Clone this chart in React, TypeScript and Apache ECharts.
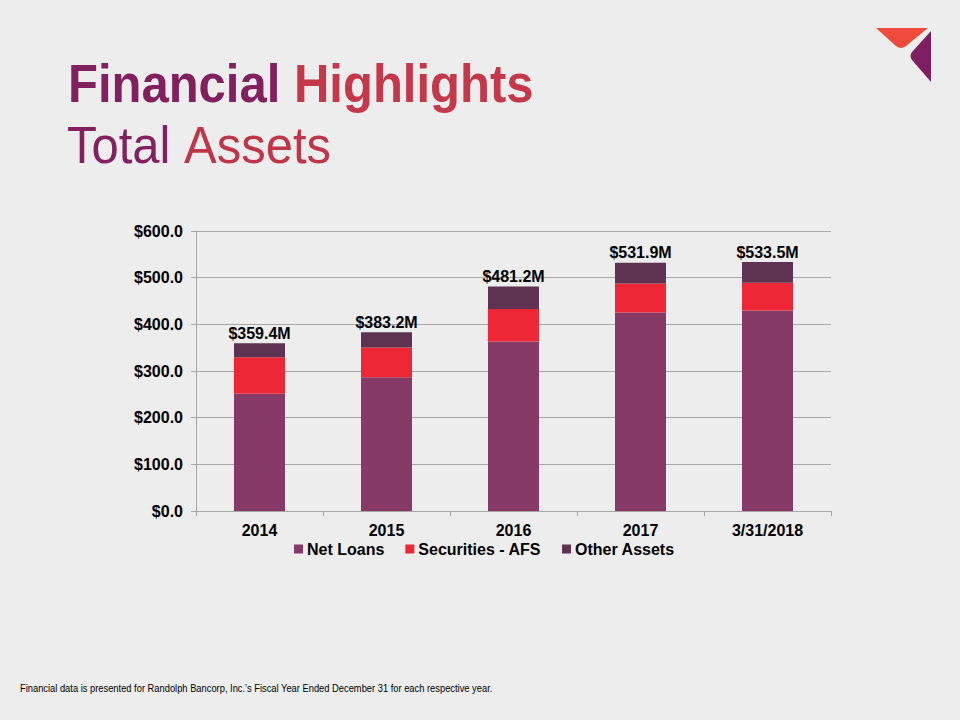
import React, { useEffect, useRef } from "react";
import * as echarts from "echarts";

const categories = ["2014", "2015", "2016", "2017", "3/31/2018"];
const netLoans = [251.0, 286.4, 363.3, 425.4, 429.7];
const securitiesAFS = [78.2, 64.2, 69.4, 62.0, 59.3];
const otherAssets = [30.2, 32.6, 48.5, 44.5, 44.5];
const totals = ["$359.4M", "$383.2M", "$481.2M", "$531.9M", "$533.5M"];
const seriesNames = ["Net Loans", "Securities - AFS", "Other Assets"];
const colors = ["#873A66", "#EE2737", "#5E3352"];

const FONT = "Liberation Sans";

echarts.graphic.registerShape(
  "logoRed",
  echarts.graphic.extendPath("M0 0 L52 0 L30 18 Q25 22 20 18 Z", {})
);
echarts.graphic.registerShape(
  "logoPurple",
  echarts.graphic.extendPath("M22 0 L22 51 L3 29 Q0 25 3 21 Z", {})
);

export default function App() {
  const ref = useRef<HTMLDivElement>(null);
  useEffect(() => {
    document.body.style.margin = "0";
    const chart = echarts.init(ref.current!, null, { renderer: "svg" });
    chart.setOption({
      animation: false,
      backgroundColor: "#EDEDED",
      textStyle: { fontFamily: FONT },
      grid: { left: 196, right: 129, top: 231, bottom: 209, containLabel: false },
      legend: {
        left: 289,
        top: 536,
        itemWidth: 9,
        itemHeight: 9,
        itemGap: 21,
        icon: "rect",
        textStyle: { fontSize: 16, fontWeight: "bold", color: "#000", fontFamily: FONT, padding: [0, 0, 0, -1] },
        data: seriesNames,
      },
      xAxis: {
        type: "category",
        data: categories,
        axisLine: { lineStyle: { color: "#A6A6A6", width: 1 } },
        axisTick: { show: true, length: 5, lineStyle: { color: "#A6A6A6" } },
        axisLabel: { fontSize: 16, fontWeight: "bold", color: "#000", margin: 11, fontFamily: FONT },
      },
      yAxis: {
        type: "value",
        min: 0,
        max: 600,
        interval: 100,
        axisLine: { show: true, lineStyle: { color: "#A6A6A6", width: 1 } },
        axisTick: { show: true, length: 5, lineStyle: { color: "#A6A6A6" } },
        splitLine: { lineStyle: { color: "#A6A6A6", width: 1 } },
        axisLabel: {
          fontSize: 16,
          fontWeight: "bold",
          color: "#000",
          margin: 13,
          fontFamily: FONT,
          formatter: (v: number) => "$" + v.toFixed(1),
        },
      },
      series: [
        { name: seriesNames[0], type: "bar", stack: "t", data: netLoans, barWidth: 51, itemStyle: { color: colors[0] } },
        { name: seriesNames[1], type: "bar", stack: "t", data: securitiesAFS, barWidth: 51, itemStyle: { color: colors[1] } },
        {
          name: seriesNames[2],
          type: "bar",
          stack: "t",
          data: otherAssets,
          barWidth: 51,
          itemStyle: { color: colors[2] },
          label: {
            show: true,
            position: "top",
            distance: 2,
            fontSize: 16,
            fontWeight: "bold",
            color: "#000",
            fontFamily: FONT,
            formatter: (p: any) => totals[p.dataIndex],
          },
        },
      ],
      graphic: [
        {
          type: "text",
          x: 68,
          y: 57,
          scaleY: 1.08,
          style: {
            text: "{a|Financial} {b|Highlights}",
            fontSize: 49,
            fontWeight: "bold",
            fontFamily: FONT,
            fill: "#82205F",
            rich: {
              a: { fontSize: 49, fontWeight: "bold", fontFamily: FONT, fill: "#82205F" },
              b: { fontSize: 49, fontWeight: "bold", fontFamily: FONT, fill: "#C5374B" },
            },
          },
        },
        {
          type: "text",
          x: 67,
          y: 120,
          scaleY: 1.05,
          style: {
            text: "{a|Total} {b|Assets}",
            fontSize: 49,
            fontFamily: FONT,
            fill: "#83205F",
            rich: {
              a: { fontSize: 49, fontFamily: FONT, fill: "#83205F" },
              b: { fontSize: 49, fontFamily: FONT, fill: "#BF364B" },
            },
          },
        },
        {
          type: "text",
          x: 20,
          y: 683,
          scaleY: 1.12,
          style: {
            text: "Financial data is presented for Randolph Bancorp, Inc.’s Fiscal Year Ended December 31 for each respective year.",
            fontSize: 9.35,
            fontFamily: FONT,
            fill: "#000",
          },
        },
        { type: "logoRed", x: 876, y: 28, style: { fill: "#EF4A3C" } },
        { type: "logoPurple", x: 909, y: 31, style: { fill: "#7E1F62" } },
      ],
    });
    return () => chart.dispose();
  }, []);
  return <div ref={ref} style={{ width: 960, height: 720, position: "fixed", left: 0, top: 0 }} />;
}
